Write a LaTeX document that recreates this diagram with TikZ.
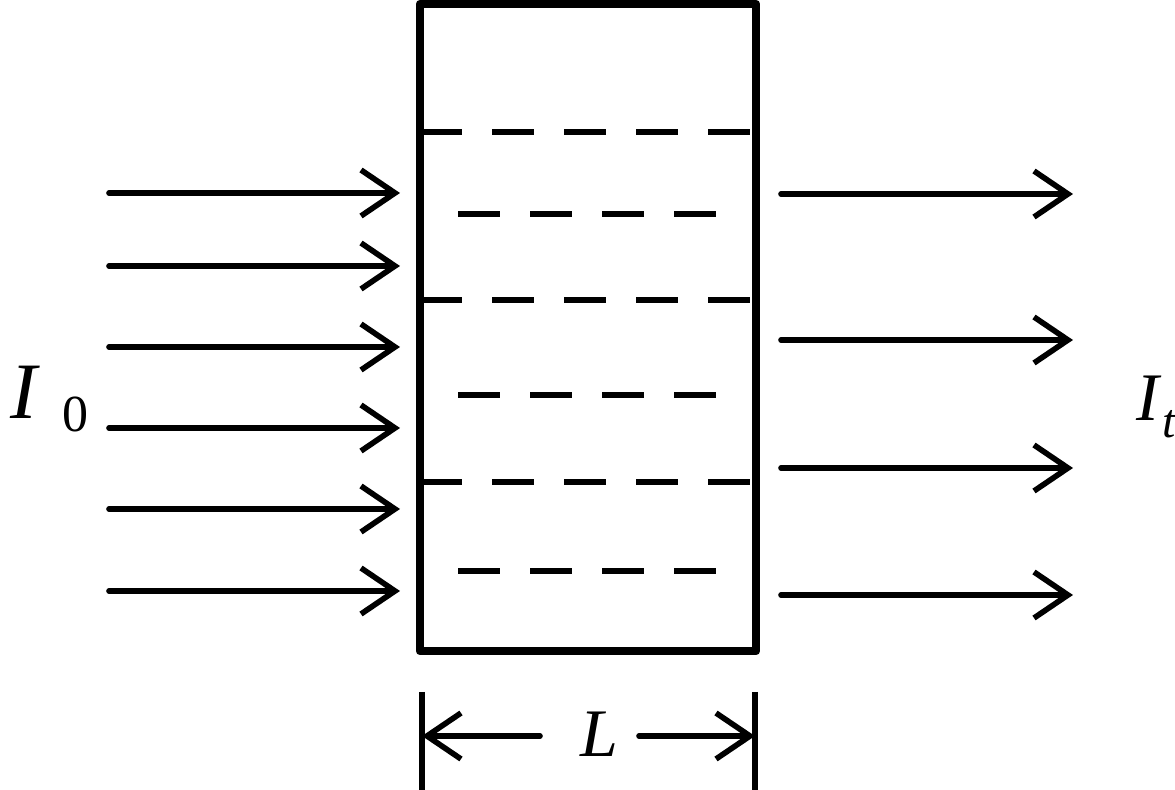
\documentclass[tikz,border=0pt]{standalone}
\usepackage{fontspec}
\setmainfont{Liberation Serif}
\usetikzlibrary{arrows.meta}

\begin{document}
\begin{tikzpicture}[x=0.5pt,y=-0.5pt,
    ray/.style={line width=2.8pt,line cap=round,-{Straight Barb[length=17pt,width=23pt,line width=2.8pt]}},
    layer/.style={line width=2.7pt,dash pattern=on 21pt off 15pt},
    tick/.style={line width=2.8pt},
    lbl/.style={inner sep=0pt,font=\fontsize{34}{40}\selectfont\itshape},
    sub/.style={inner sep=0pt,font=\fontsize{24}{28}\selectfont}]
        \useasboundingbox (0,0) rectangle (1175,790);

        % layers in the sample
        \draw [layer] (420,132)--(756,132);
        \draw [layer] (420,300)--(756,300);
        \draw [layer] (420,482)--(756,482);
        \draw [layer] (458,214)--(720,214);
        \draw [layer] (458,395)--(720,395);
        \draw [layer] (458,571)--(720,571);

        % sample
        \draw [line width=4.3pt,line join=round] (420,4) rectangle (756,651);

        % incident beam
        \draw [ray] (109,193)--(400,193);
        \draw [ray] (109,266)--(400,266);
        \draw [ray] (109,347)--(400,347);
        \draw [ray] (109,428)--(400,428);
        \draw [ray] (109,509)--(400,509);
        \draw [ray] (109,591)--(400,591);

        % transmitted beam
        \draw [ray] (781,194)--(1073,194);
        \draw [ray] (781,340)--(1073,340);
        \draw [ray] (781,468)--(1073,468);
        \draw [ray] (781,595)--(1073,595);

        \node [lbl,anchor=base west,font=\fontsize{40}{46}\selectfont\itshape] (Iin) at (10,419) {I};
        \node [sub,anchor=base west,font=\fontsize{26}{30}\selectfont] (Iin0) at (62,432) {0};
        \node [lbl,anchor=base west] (Iout) at (1136,421) {I};
        \node [sub,anchor=base west,font=\fontsize{24}{28}\selectfont\itshape] (Ioutt) at (1162,438) {t};

        % thickness
        \coordinate (dl) at (422,736);
        \coordinate (dr) at (755,736);
        \coordinate (lenl) at (540,736);
        \coordinate (lenr) at (639,736);
        \draw [tick] (422,692)--(422,800);
        \draw [tick] (755,692)--(755,800);
        \node [lbl,anchor=base] (len) at (599,757) {L};
        \draw [ray] (lenl)--(dl);
        \draw [ray] (lenr)--(dr);
\end{tikzpicture}
\end{document}
